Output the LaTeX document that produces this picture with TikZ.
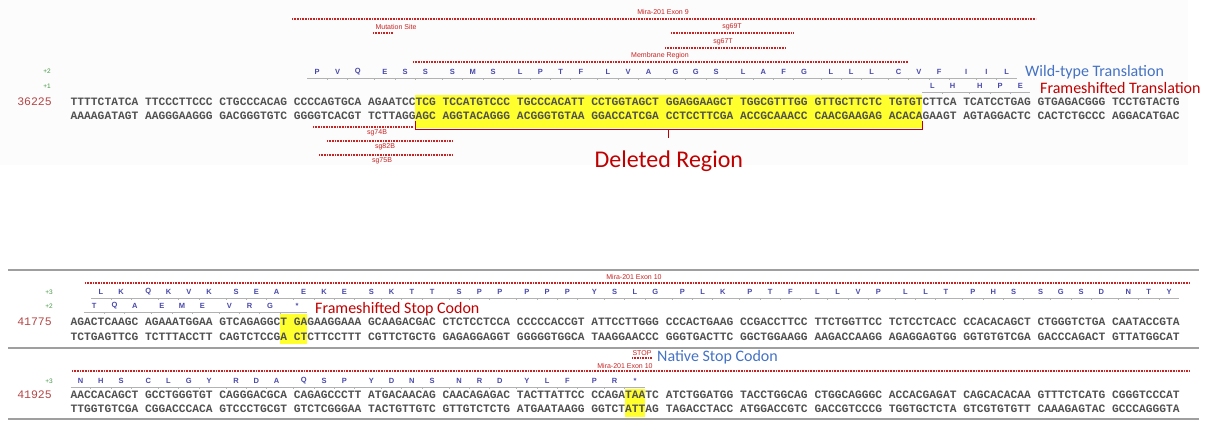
\documentclass[tikz,border=0pt]{standalone}
\usepackage{fontspec}
\setmainfont{Carlito}
\newfontfamily\seqfont{Liberation Mono}
\newfontfamily\annfont{Liberation Sans}
\usetikzlibrary{positioning}
\definecolor{seqgray}{RGB}{80,80,80}
\definecolor{posred}{RGB}{180,70,70}
\definecolor{framegreen}{RGB}{70,150,70}
\definecolor{aablue}{RGB}{72,72,170}
\definecolor{featred}{RGB}{200,35,35}
\definecolor{calloutblue}{RGB}{68,114,196}
\definecolor{calloutred}{RGB}{192,0,0}
\definecolor{hilite}{RGB}{255,255,45}
\newcommand\rowx{70.5}
\newcommand\colw{6.76}
\tikzset{
	dna/.style={anchor=west,inner sep=0pt,text=seqgray,font=\seqfont\bfseries\fontsize{11.27}{12}\selectfont},
	seqpos/.style={anchor=east,inner sep=0pt,text=posred,font=\seqfont\fontsize{11.5}{12}\selectfont},
	framelbl/.style={anchor=east,inner sep=0pt,text=framegreen,font=\annfont\fontsize{6.5}{7}\selectfont},
	aa/.style={inner sep=0pt,text=aablue,font=\annfont\bfseries\fontsize{7.5}{8}\selectfont},
	aaline/.style={draw=gray!60,line width=0.7pt},
	feature/.style={draw=featred,line width=1.6pt,dash pattern=on 1pt off 0.6pt},
	featlbl/.style={inner sep=0pt,text=featred,font=\annfont\fontsize{7}{8}\selectfont},
	callout/.style={anchor=west,inner sep=0pt,font=\fontsize{16}{19}\selectfont},
	bracket/.style={draw=calloutred,line width=1.1pt},
	panel/.style={draw=gray!75,line width=2pt}
}
% one translated frame: name, y, first base, codons, residues
\newcommand\aarow[5]{%
	\foreach \res [count=\k from 0] in {#5}{
		\pgfmathsetmacro\ci{#3+3*\k+1}
		\pgfmathsetmacro\xx{\rowx+(\ci+floor(\ci/10)+0.5)*\colw}
		\node[aa] (#1\k) at (\xx,#2) {\res};
	}
	\pgfmathsetmacro\xa{\rowx+(#3+floor(#3/10))*\colw}
	\pgfmathsetmacro\lastbase{#3+3*#4-1}
	\pgfmathsetmacro\xb{\rowx+(\lastbase+floor(\lastbase/10)+1)*\colw}
	\draw[aaline] (\xa,#2+6.5) -- (\xb,#2+6.5);
	\pgfmathtruncatemacro\nticks{#4-1}
	\foreach \j in {1,...,\nticks}{
		\pgfmathsetmacro\bi{#3+3*\j}
		\pgfmathsetmacro\xt{\rowx+(\bi+floor(\bi/10))*\colw}
		\draw[aaline] (\xt,#2+6.5) -- (\xt,#2+8.3);
	}
}

\begin{document}
\begin{tikzpicture}[x=1pt,y=-1pt]
	\useasboundingbox (0,0) rectangle (1210,423);
	\fill[black!1] (0,0) rectangle (1188,165);

	% exon 9 with the deletion
	\draw[feature] (292,19) -- (1036,19);
	\node[featlbl] (exon9) at (663,12) {Mira-201 Exon 9};
	\draw[feature] (373,33) -- (393,33);
	\node[featlbl] (mutsite) at (396,27) {Mutation Site};
	\draw[feature] (671,33) -- (793,33);
	\node[featlbl] (sg69) at (732,27) {sg69T};
	\draw[feature] (665,48) -- (786,48);
	\node[featlbl] (sg67) at (723,42) {sg67T};
	\draw[feature] (413,62) -- (908,62);
	\node[featlbl] (membrane) at (660,56) {Membrane Region};

	\node[framelbl] (fr2) at (51,71) {+2};
	\node[framelbl] (fr1) at (51,86) {+1};
	\aarow{wt}{72}{32}{32}{P,V,Q,E,S,S,S,M,S,L,P,T,F,L,V,A,G,G,S,L,A,F,G,L,L,L,C,V,F,I,I,L}
	\aarow{fs}{86}{115}{5}{L,H,H,P,E}
	\node[callout,text=calloutblue] (wtlbl) at (1025,72) {Wild-type Translation};
	\node[callout,text=calloutred] (fslbl) at (1040,88.5) {Frameshifted Translation};

	\fill[hilite] (415.3,95) rectangle (922.3,128);
	\node[seqpos] (pos1) at (52,101.5) {36225};
	\node[dna] (top1) at (\rowx,101.5) {TTTTCTATCA TTCCCTTCCC CTGCCCACAG CCCCAGTGCA AGAATCCTCG TCCATGTCCC TGCCCACATT CCTGGTAGCT GGAGGAAGCT TGGCGTTTGG GTTGCTTCTC TGTGTCTTCA TCATCCTGAG GTGAGACGGG TCCTGTACTG};
	\node[dna] (bot1) at (\rowx,115.5) {AAAAGATAGT AAGGGAAGGG GACGGGTGTC GGGGTCACGT TCTTAGGAGC AGGTACAGGG ACGGGTGTAA GGACCATCGA CCTCCTTCGA ACCGCAAACC CAACGAAGAG ACACAGAAGT AGTAGGACTC CACTCTGCCC AGGACATGAC};

	\draw[bracket] (415.3,121) -- (415.3,129.5) -- (922.3,129.5) -- (922.3,121);
	\draw[bracket] (668.8,129.5) -- (668.8,138) coordinate (deltip);
	\node[inner sep=0pt,text=calloutred,font=\fontsize{24}{28}\selectfont,below=13pt of deltip] (delreg) {Deleted Region};

	\draw[feature] (313,127) -- (413,127);
	\node[featlbl] (sg74) at (377,133) {sg74B};
	\draw[feature] (327,141) -- (453,141);
	\node[featlbl] (sg82) at (385,147) {sg82B};
	\draw[feature] (319,155) -- (453,155);
	\node[featlbl] (sg75) at (382,161) {sg75B};

	% exon 10, frameshifted stop
	\draw[panel] (8,270) -- (1199,270);
	\draw[feature] (85,283) -- (1190,283);
	\node[featlbl] (exon10a) at (634,277) {Mira-201 Exon 10};
	\node[framelbl] (fr3a) at (53,292) {+3};
	\node[framelbl] (fr2a) at (53,306) {+2};
	\aarow{fa}{292}{3}{49}{L,K,Q,K,V,K,S,E,A,E,K,E,S,K,T,T,S,P,P,P,P,P,Y,S,L,G,P,L,K,P,T,F,L,L,V,P,L,L,T,P,H,S,S,G,S,D,N,T,Y}
	\aarow{fb}{306}{2}{10}{T,Q,A,E,M,E,V,R,G,*}
	\node[callout,text=calloutred] (fsstop) at (315,309) {Frameshifted Stop Codon};

	\fill[hilite] (280.1,314) rectangle (307.1,344);
	\node[seqpos] (pos2) at (52,322) {41775};
	\node[dna] (top2) at (\rowx,322) {AGACTCAAGC AGAAATGGAA GTCAGAGGCT GAGAAGGAAA GCAAGACGAC CTCTCCTCCA CCCCCACCGT ATTCCTTGGG CCCACTGAAG CCGACCTTCC TTCTGGTTCC TCTCCTCACC CCACACAGCT CTGGGTCTGA CAATACCGTA};
	\node[dna] (bot2) at (\rowx,336.5) {TCTGAGTTCG TCTTTACCTT CAGTCTCCGA CTCTTCCTTT CGTTCTGCTG GAGAGGAGGT GGGGGTGGCA TAAGGAACCC GGGTGACTTC GGCTGGAAGG AAGACCAAGG AGAGGAGTGG GGTGTGTCGA GACCCAGACT GTTATGGCAT};
	\draw[panel] (8,348) -- (1199,348);

	% exon 10, native stop
	\draw[feature,line width=1.2pt] (632,358) -- (652,358);
	\node[featlbl] (stop) at (642,353) {STOP};
	\node[callout,text=calloutblue] (natstop) at (657,357) {Native Stop Codon};
	\draw[feature] (72,371) -- (1190,371);
	\node[featlbl] (exon10b) at (625,365.5) {Mira-201 Exon 10};
	\node[framelbl] (fr3b) at (53,381) {+3};
	\aarow{fc}{381}{0}{26}{N,H,S,C,L,G,Y,R,D,A,Q,S,P,Y,D,N,S,N,R,D,Y,L,F,P,R,*}

	\fill[hilite] (624.8,389) rectangle (645.1,417);
	\node[seqpos] (pos3) at (52,395) {41925};
	\node[dna] (top3) at (\rowx,395) {AACCACAGCT GCCTGGGTGT CAGGGACGCA CAGAGCCCTT ATGACAACAG CAACAGAGAC TACTTATTCC CCAGATAATC ATCTGGATGG TACCTGGCAG CTGGCAGGGC ACCACGAGAT CAGCACACAA GTTTCTCATG CGGGTCCCAT};
	\node[dna] (bot3) at (\rowx,409) {TTGGTGTCGA CGGACCCACA GTCCCTGCGT GTCTCGGGAA TACTGTTGTC GTTGTCTCTG ATGAATAAGG GGTCTATTAG TAGACCTACC ATGGACCGTC GACCGTCCCG TGGTGCTCTA GTCGTGTGTT CAAAGAGTAC GCCCAGGGTA};
	\draw[panel] (8,419) -- (1199,419);
\end{tikzpicture}
\end{document}
